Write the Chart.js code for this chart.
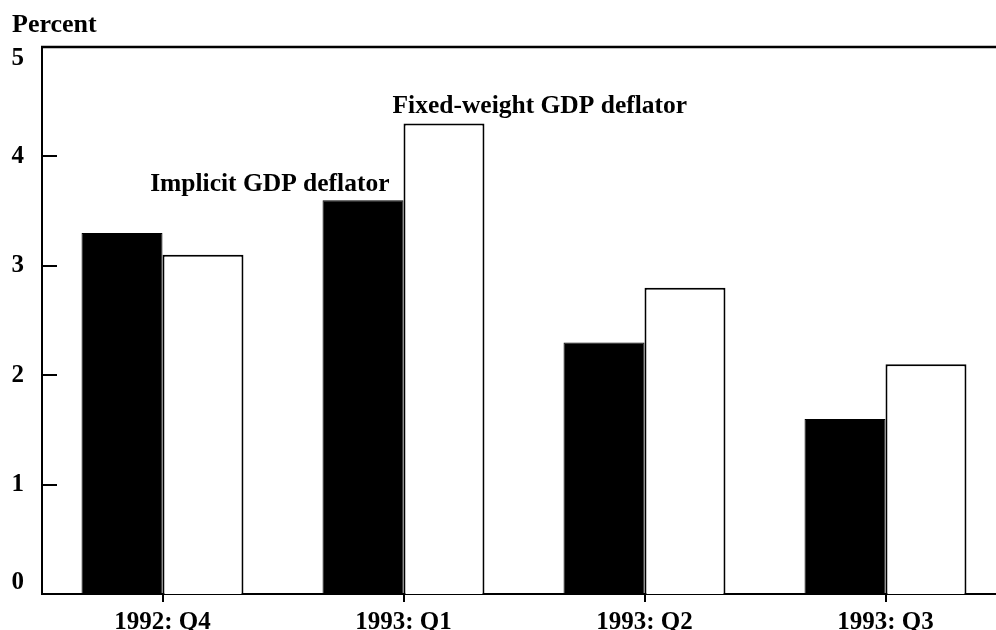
<!DOCTYPE html>
<html>
<head>
<meta charset="utf-8">
<script src="https://cdn.jsdelivr.net/npm/chart.js@4/dist/chart.umd.min.js"></script>
<style>
  html, body { margin: 0; padding: 0; background: #fff; overflow: hidden; }
  #wrap { position: absolute; left: 0; top: 0; width: 1010px; height: 630px; }
</style>
</head>
<body>
<div id="wrap"><canvas id="c"></canvas></div>
<script>
const categories = ['1992: Q4', '1993: Q1', '1993: Q2', '1993: Q3'];
const implicitDeflator = [3.3, 3.6, 2.3, 1.6];
const fixedWeightDeflator = [3.1, 4.3, 2.8, 2.1];
const yTickValues = [0, 1, 2, 3, 4, 5];
const seriesNames = ['Implicit GDP deflator', 'Fixed-weight GDP deflator'];
const unitLabel = 'Percent';

const FONT = '"Liberation Serif", "Times New Roman", serif';

const decor = {
  id: 'decor',
  afterDraw(chart) {
    const ctx = chart.ctx;
    const area = chart.chartArea;
    const y = chart.scales.y;
    ctx.save();
    ctx.strokeStyle = '#000';
    // top frame line
    ctx.lineWidth = 2.5;
    ctx.beginPath();
    ctx.moveTo(area.left - 1, area.top);
    ctx.lineTo(area.right, area.top);
    ctx.stroke();
    // inward y tick marks
    ctx.lineWidth = 2;
    yTickValues.forEach(v => {
      const py = Math.round(y.getPixelForValue(v));
      ctx.beginPath();
      ctx.moveTo(area.left, py);
      ctx.lineTo(area.left + 15, py);
      ctx.stroke();
    });
    // texts
    ctx.fillStyle = '#000';
    ctx.textBaseline = 'alphabetic';
    ctx.font = 'bold 26px ' + FONT;
    ctx.textAlign = 'left';
    ctx.fillText(unitLabel, 12, 32);
    ctx.font = 'bold 25.5px ' + FONT;
    const b0 = chart.getDatasetMeta(0).data[1];
    ctx.textAlign = 'right';
    ctx.fillText(seriesNames[0], b0.x + b0.width / 2 - 14, b0.y - 9);
    const b1 = chart.getDatasetMeta(1).data[1];
    ctx.textAlign = 'left';
    ctx.fillText(seriesNames[1], b1.x - b1.width / 2 - 11, b1.y - 11);
    ctx.restore();
  }
};

new Chart(document.getElementById('c'), {
  type: 'bar',
  data: {
    labels: categories,
    datasets: [
      { label: seriesNames[0], data: implicitDeflator, backgroundColor: '#000', borderColor: '#000', borderWidth: 1, borderSkipped: 'start' },
      { label: seriesNames[1], data: fixedWeightDeflator, backgroundColor: '#fff', borderColor: '#000', borderWidth: 2, borderSkipped: 'start' }
    ]
  },
  options: {
    responsive: true,
    maintainAspectRatio: false,
    animation: false,
    devicePixelRatio: 1,
    layout: { padding: { top: 47, right: 4, left: 0, bottom: 0 } },
    datasets: { bar: { barPercentage: 1, categoryPercentage: 0.672 } },
    plugins: { legend: { display: false }, tooltip: { enabled: false }, title: { display: false } },
    scales: {
      x: {
        type: 'category',
        offset: true,
        grid: { display: true, drawOnChartArea: false, drawTicks: true, tickLength: 8, offset: false, color: '#000', lineWidth: 2 },
        border: { display: true, color: '#000', width: 2 },
        ticks: { color: '#000', padding: 8, font: { family: FONT, size: 25, weight: 'bold', lineHeight: 1.0 }, maxRotation: 0, autoSkip: false },
        afterFit(s) { s.height = 36; s.paddingLeft = 0; s.paddingRight = 0; }
      },
      y: {
        min: 0, max: 5,
        grid: { display: false, drawTicks: false },
        border: { display: true, color: '#000', width: 2 },
        ticks: {
          stepSize: 1,
          color: '#000',
          padding: 18,
          font: { family: FONT, size: 25, weight: 'bold', lineHeight: 0.95 },
          callback(v) {
            if (v === 5) return ['', String(v)];
            if (v === 0) return [String(v), ''];
            return String(v);
          }
        },
        afterFit(s) { s.width = 42; s.paddingTop = 0; s.paddingBottom = 0; }
      }
    }
  },
  plugins: [decor]
});
</script>
</body>
</html>
